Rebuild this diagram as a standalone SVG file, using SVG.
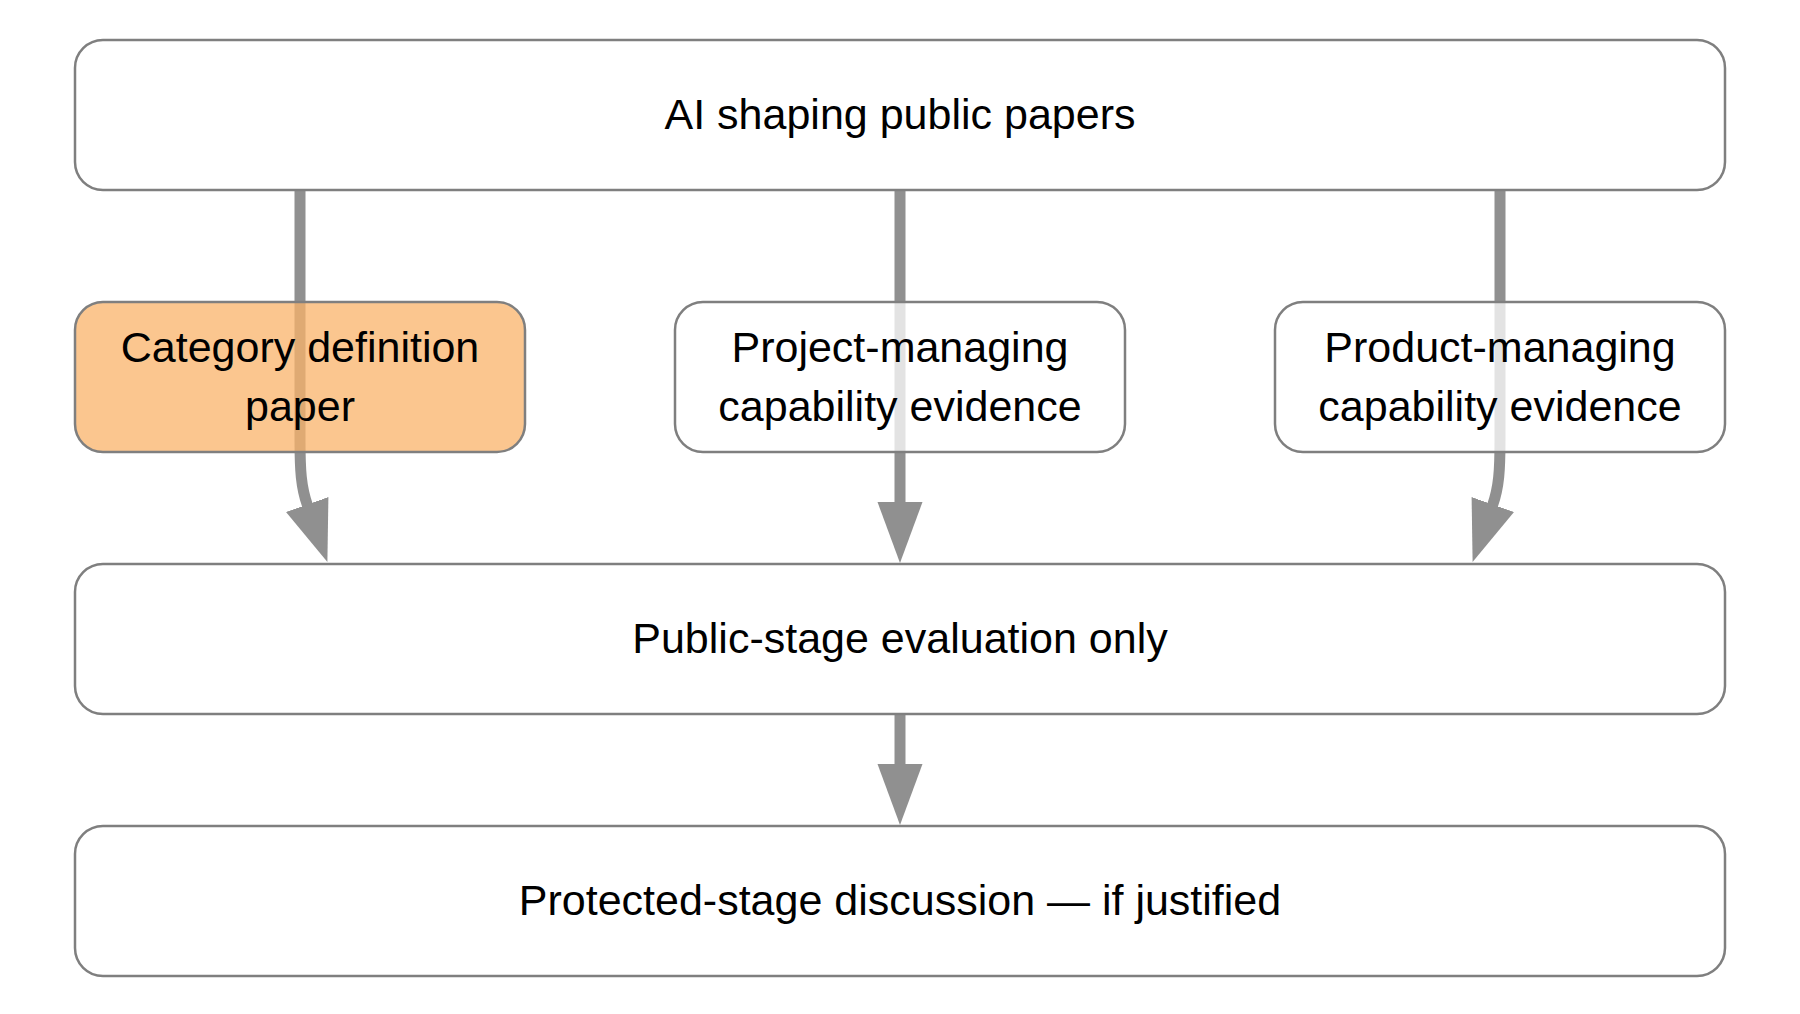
<svg xmlns="http://www.w3.org/2000/svg" width="1800" height="1014" viewBox="0 0 1800 1014">
  <style>
    .box { fill: #ffffff; fill-opacity: 0.75; stroke: #7f7f7f; stroke-width: 2.5; }
    .hl { fill: #f9b36a; }
    .lbl { font-family: "Liberation Sans", Arial, sans-serif; font-size: 43px; fill: #000000; text-anchor: middle; }
    .conn { fill: none; stroke: #909090; stroke-width: 11; }
  </style>
  <defs>
    <marker id="arrow" markerUnits="userSpaceOnUse" markerWidth="62" markerHeight="46" viewBox="0 0 62 46" refX="1" refY="23" orient="auto">
      <path d="M0,0.5 L61,23 L0,45.5 Z" fill="#909090"/>
    </marker>
  </defs>
  <rect width="1800" height="1014" fill="#ffffff"/>

  <g id="connectors">
    <path class="conn" d="M300 190 L300 440 C300 470 301 487 307.5 505.5" marker-end="url(#arrow)"/>
    <path class="conn" d="M900 190 L900 503" marker-end="url(#arrow)"/>
    <path class="conn" d="M1500 190 L1500 440 C1500 470 1499 487 1492.5 505.5" marker-end="url(#arrow)"/>
    <path class="conn" d="M900 714 L900 765" marker-end="url(#arrow)"/>
  </g>

  <g id="node-top">
    <rect class="box" x="75" y="40" width="1650" height="150" rx="28" ry="28"/>
    <text class="lbl" x="900" y="129">AI shaping public papers</text>
  </g>

  <g id="node-category">
    <rect class="box hl" x="75" y="302" width="450" height="150" rx="28" ry="28"/>
    <text class="lbl" x="300" y="362">Category definition</text>
    <text class="lbl" x="300" y="421">paper</text>
  </g>

  <g id="node-project">
    <rect class="box" x="675" y="302" width="450" height="150" rx="28" ry="28"/>
    <text class="lbl" x="900" y="362">Project-managing</text>
    <text class="lbl" x="900" y="421">capability evidence</text>
  </g>

  <g id="node-product">
    <rect class="box" x="1275" y="302" width="450" height="150" rx="28" ry="28"/>
    <text class="lbl" x="1500" y="362">Product-managing</text>
    <text class="lbl" x="1500" y="421">capability evidence</text>
  </g>

  <g id="node-public">
    <rect class="box" x="75" y="564" width="1650" height="150" rx="28" ry="28"/>
    <text class="lbl" x="900" y="653">Public-stage evaluation only</text>
  </g>

  <g id="node-protected">
    <rect class="box" x="75" y="826" width="1650" height="150" rx="28" ry="28"/>
    <text class="lbl" x="900" y="915">Protected-stage discussion — if justified</text>
  </g>
</svg>
